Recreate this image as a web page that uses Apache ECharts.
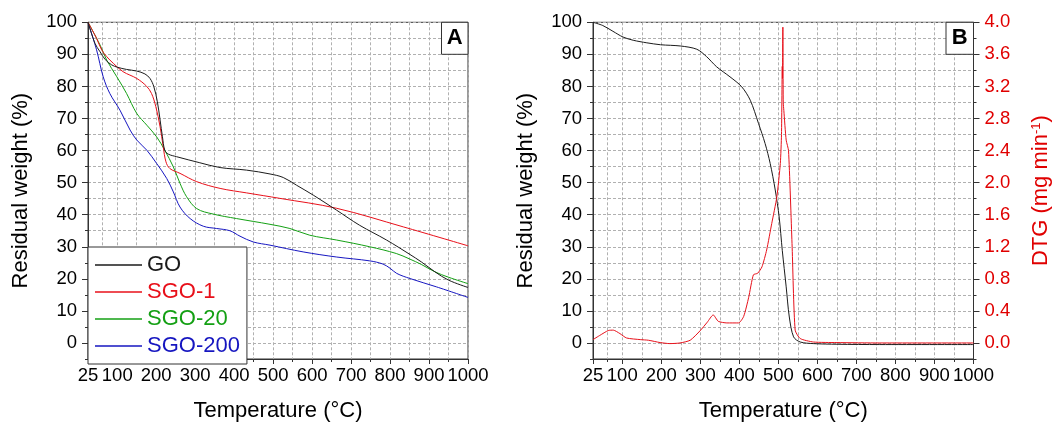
<!DOCTYPE html>
<html>
<head>
<meta charset="utf-8">
<script src="https://cdn.jsdelivr.net/npm/echarts@6/dist/echarts.min.js"></script>
<style>html,body{margin:0;padding:0;background:#fff}#c{width:1056px;height:427px}</style>
</head>
<body>
<div id="c"></div>
<script>
// ---------- tick labels / grid positions ----------
const xLabelVals = [25, 100, 200, 300, 400, 500, 600, 700, 800, 900, 1000];
const xGridVals = [25, 62.5, 100, 150, 200, 250, 300, 350, 400, 450, 500, 550, 600, 650, 700, 750, 800, 850, 900, 950, 1000];
const yLabelVals = [0, 10, 20, 30, 40, 50, 60, 70, 80, 90, 100];
const yGridVals = [-5, 0, 5, 10, 15, 20, 25, 30, 35, 40, 45, 50, 55, 60, 65, 70, 75, 80, 85, 90, 95, 100];
const dtgLabelVals = [0.0, 0.4, 0.8, 1.2, 1.6, 2.0, 2.4, 2.8, 3.2, 3.6, 4.0];
const dtgMinorVals = [-0.2, 0.2, 0.6, 1.0, 1.4, 1.8, 2.2, 2.6, 3.0, 3.4, 3.8];

// ---------- Panel A data ----------
const seriesNames = ['GO', 'SGO-1', 'SGO-20', 'SGO-200'];
const goT = [25, 43, 56, 69, 86, 100, 124, 150, 171, 184, 194, 203, 210, 216, 222, 231, 252, 312, 364, 432, 492, 526, 560, 603, 663, 722, 791, 851, 880, 915, 950, 1000];
const goW = [100, 93.4, 90.8, 88.4, 86.7, 86.0, 85.3, 84.8, 83.9, 82.5, 79.9, 75.2, 69.5, 64.3, 60.1, 58.9, 58.1, 56.2, 54.7, 53.9, 52.7, 51.6, 49.2, 46.1, 41.4, 36.7, 32.1, 27.6, 25.3, 22.2, 19.6, 17.3];
const sgo1T = [25, 47, 60, 73, 90, 115, 150, 175, 188, 199, 210, 218, 225, 235, 261, 304, 364, 432, 517, 663, 834, 1000];
const sgo1W = [100, 95, 91.4, 89.3, 87.2, 84.6, 82.5, 80.1, 77.8, 73.7, 67.4, 61.2, 56.5, 54.4, 52.9, 50.3, 48.2, 46.8, 45.1, 42.0, 36.2, 30.3];
const sgo20T = [25, 56, 73, 99, 124, 150, 176, 201, 222, 244, 261, 278, 304, 346, 406, 492, 543, 594, 663, 748, 816, 850, 880, 915, 950, 1000];
const sgo20W = [100, 92.9, 88.2, 83, 77.8, 71.6, 67.9, 64.3, 60.1, 54.9, 49.8, 45.6, 41.9, 40.2, 38.8, 37.0, 35.7, 33.6, 32.1, 30.0, 27.9, 26.2, 24.5, 22.2, 20.5, 18.5];
const sgo200T = [25, 47, 64, 81, 107, 133, 150, 176, 201, 227, 244, 261, 287, 321, 355, 389, 415, 449, 492, 577, 663, 748, 782, 800, 817, 851, 919, 1000];
const sgo200W = [100, 91.4, 83, 77.8, 72.6, 66.4, 63.3, 60.1, 56, 51.3, 47.1, 42.4, 38.8, 36.4, 35.7, 35, 33.3, 31.5, 30.5, 28.4, 26.8, 25.6, 24.6, 23.3, 21.7, 20.1, 17.5, 14.2];

// ---------- Panel B data ----------
const tgT = [25, 50, 76, 102, 128, 163, 198, 250, 291, 316, 342, 376, 406, 428, 449, 466, 479, 492, 502, 510, 520, 528, 539, 556, 590, 650, 760, 1000];
const tgW = [100, 99, 97.2, 95.4, 94.4, 93.6, 93.0, 92.6, 91.6, 89.3, 86.1, 83.0, 79.9, 75.7, 68.5, 62.2, 56, 47.7, 39.3, 28.9, 17.5, 8.1, 1.9, 0.3, -0.2, -0.4, -0.5, -0.5];
const dtgT = [25, 43, 64, 77, 94, 111, 146, 167, 197, 222, 248, 274, 299, 318, 333, 346, 368, 398, 411, 424, 436, 447, 458, 470, 483, 496, 505, 508, 510, 510.5, 511.5, 512.5, 514, 520, 526, 535, 543, 556, 590, 650, 760, 1000];
const dtgV = [0.042, 0.096, 0.155, 0.16, 0.117, 0.062, 0.042, 0.034, 0.005, -0.008, 0.0, 0.034, 0.15, 0.26, 0.35, 0.27, 0.25, 0.25, 0.33, 0.57, 0.85, 0.87, 0.95, 1.16, 1.49, 1.82, 2.24, 2.6, 3.45, 3.3, 3.94, 3.0, 2.9, 2.53, 2.4, 1.24, 0.16, 0.055, 0.012, 0.005, 0.0, 0.0];

const colors = ['#1b1b1b', '#e8101a', '#14a014', '#1616c0'];
const dtgColor = '#e8101a';
const axisColor = '#333';
const gridColor = '#b0b0b0';
const FONT = 'Liberation Sans, Arial, sans-serif';
const TICK_FS = 18.5;

const zip = (a, b) => a.map((v, i) => [v, b[i]]);

function mainX(gi) {
  return {
    type: 'value', gridIndex: gi, min: 25, max: 1000, position: 'bottom',
    axisLine: {show: true, onZero: false, lineStyle: {color: axisColor, width: 1}},
    axisTick: {show: true, customValues: xLabelVals, length: 5, lineStyle: {color: axisColor}},
    axisLabel: {show: true, customValues: xLabelVals, fontSize: TICK_FS, color: '#000', margin: 7, fontFamily: FONT,
      formatter: v => String(v)},
    splitLine: {show: false},
    name: 'Temperature (°C)', nameLocation: 'middle', nameGap: 41,
    nameTextStyle: {fontSize: 22, color: '#000', fontFamily: FONT}
  };
}
function minorX(gi) {
  return {
    type: 'value', gridIndex: gi, min: 25, max: 1000, position: 'bottom',
    axisLine: {show: false, onZero: false},
    axisTick: {show: true, customValues: xGridVals, length: 3, lineStyle: {color: axisColor}},
    axisLabel: {show: false},
    splitLine: {show: true, lineStyle: {color: gridColor, type: [3, 2], width: 1}}
  };
}
function mainY(gi) {
  return {
    type: 'value', gridIndex: gi, min: -5, max: 100, position: 'left',
    axisLine: {show: true, onZero: false, lineStyle: {color: axisColor, width: 1}},
    axisTick: {show: true, customValues: yLabelVals, length: 6, lineStyle: {color: axisColor}},
    axisLabel: {show: true, customValues: yLabelVals, fontSize: TICK_FS, color: '#000', margin: 11, fontFamily: FONT},
    splitLine: {show: false},
    name: 'Residual weight (%)', nameLocation: 'middle', nameGap: 56, nameRotate: 90,
    nameTextStyle: {fontSize: 22, color: '#000', fontFamily: FONT}
  };
}
function minorY(gi) {
  return {
    type: 'value', gridIndex: gi, min: -5, max: 100, position: 'left',
    axisLine: {show: false, onZero: false},
    axisTick: {show: true, customValues: yGridVals, length: 3, lineStyle: {color: axisColor}},
    axisLabel: {show: false},
    splitLine: {show: true, lineStyle: {color: gridColor, type: [3, 2], width: 1}}
  };
}

const chart = echarts.init(document.getElementById('c'), null, {renderer: 'canvas'});

const seriesA = [[goT, goW], [sgo1T, sgo1W], [sgo20T, sgo20W], [sgo200T, sgo200W]].map((d, i) => ({
  name: seriesNames[i], type: 'line', xAxisIndex: 0, yAxisIndex: 0,
  data: zip(d[0], d[1]), symbol: 'none', showSymbol: false, smooth: 0.35,
  lineStyle: {color: colors[i], width: 1}, itemStyle: {color: colors[i]}, z: 5 - i
}));

const option = {
  animation: false,
  backgroundColor: '#fff',
  textStyle: {fontFamily: FONT},
  grid: [
    {left: 88, top: 22.3, width: 380, height: 337.2, show: true, borderColor: axisColor, borderWidth: 1, backgroundColor: 'transparent'},
    {left: 593, top: 22.3, width: 380.5, height: 337.2, show: true, borderColor: axisColor, borderWidth: 1, backgroundColor: 'transparent'}
  ],
  xAxis: [mainX(0), minorX(0), mainX(1), minorX(1)],
  yAxis: [
    mainY(0), minorY(0), mainY(1), minorY(1),
    {
      type: 'value', gridIndex: 1, min: -0.2, max: 4.0, position: 'right',
      axisLine: {show: true, onZero: false, lineStyle: {color: axisColor, width: 1}},
      axisTick: {show: true, customValues: dtgLabelVals, length: 6, lineStyle: {color: axisColor}},
      axisLabel: {show: true, customValues: dtgLabelVals, fontSize: TICK_FS, color: '#e00000', margin: 11, fontFamily: FONT,
        formatter: v => Number(v).toFixed(1)},
      splitLine: {show: false},
      name: '{a|DTG (mg min}{s|-1}{a|)}', nameLocation: 'middle', nameGap: 56, nameRotate: 90,
      nameTextStyle: {color: '#e00000', fontSize: 22, fontFamily: FONT,
        rich: {a: {fontSize: 22, color: '#e00000', fontFamily: FONT},
               s: {fontSize: 13, color: '#e00000', fontFamily: FONT, verticalAlign: 'top'}}}
    },
    {
      type: 'value', gridIndex: 1, min: -0.2, max: 4.0, position: 'right',
      axisLine: {show: false, onZero: false},
      axisTick: {show: true, customValues: dtgMinorVals, length: 3, lineStyle: {color: axisColor}},
      axisLabel: {show: false},
      splitLine: {show: false}
    }
  ],
  legend: {
    orient: 'vertical', left: 88, top: 247, padding: [7, 7, 7, 7],
    icon: 'rect', itemWidth: 47, itemHeight: 1.5, itemGap: 5, selectedMode: false,
    backgroundColor: '#fff', borderColor: axisColor, borderWidth: 1,
    textStyle: {fontSize: 22, lineHeight: 21, fontFamily: FONT},
    data: seriesNames.map((n, i) => ({name: n, textStyle: {color: colors[i]}})),
    z: 10
  },
  series: seriesA.concat([
    {
      name: 'TG', type: 'line', xAxisIndex: 2, yAxisIndex: 2,
      data: zip(tgT, tgW), symbol: 'none', showSymbol: false, smooth: 0.3,
      lineStyle: {color: colors[0], width: 1}, z: 4
    },
    {
      name: 'DTG', type: 'line', xAxisIndex: 2, yAxisIndex: 4,
      data: zip(dtgT, dtgV), symbol: 'none', showSymbol: false, smooth: 0.2,
      lineStyle: {color: dtgColor, width: 1}, z: 5
    }
  ]),
  graphic: [
    {type: 'rect', z: 100, shape: {x: 441.5, y: 22.3, width: 26.5, height: 32}, style: {fill: '#fff', stroke: axisColor, lineWidth: 1}},
    {type: 'text', z: 101, x: 454.75, y: 38.3, style: {text: 'A', fontSize: 22, fontWeight: 'bold', fontFamily: FONT, fill: '#000', align: 'center', verticalAlign: 'middle'}},
    {type: 'rect', z: 100, shape: {x: 946, y: 22.3, width: 27.5, height: 32}, style: {fill: '#fff', stroke: axisColor, lineWidth: 1}},
    {type: 'text', z: 101, x: 959.75, y: 38.3, style: {text: 'B', fontSize: 22, fontWeight: 'bold', fontFamily: FONT, fill: '#000', align: 'center', verticalAlign: 'middle'}}
  ]
};
chart.setOption(option);
</script>
</body>
</html>
